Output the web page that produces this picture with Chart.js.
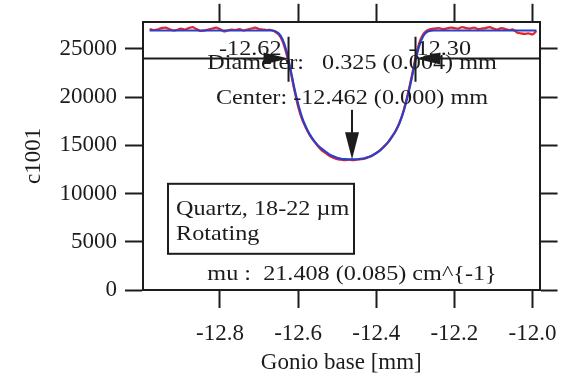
<!DOCTYPE html>
<html>
<head>
<meta charset="utf-8">
<script src="https://cdn.jsdelivr.net/npm/chart.js@4/dist/chart.umd.min.js"></script>
<style>
  html, body { margin: 0; padding: 0; background: #ffffff; }
  canvas { display: block; }
</style>
</head>
<body>
<canvas id="c" width="569" height="387"></canvas>
<script>
// Gonio base position [mm]
const positions = [
  -12.98, -12.97, -12.96, -12.95, -12.94, -12.93, -12.92, -12.91, -12.90, -12.89,
  -12.88, -12.87, -12.86, -12.85, -12.84, -12.83, -12.82, -12.81, -12.80, -12.79,
  -12.78, -12.77, -12.76, -12.75, -12.74, -12.73, -12.72, -12.71, -12.70, -12.69,
  -12.68, -12.67, -12.66, -12.65, -12.64, -12.63, -12.62, -12.61, -12.60, -12.59,
  -12.58, -12.57, -12.56, -12.55, -12.54, -12.53, -12.52, -12.51, -12.50, -12.49,
  -12.48, -12.47, -12.46, -12.45, -12.44, -12.43, -12.42, -12.41, -12.40, -12.39,
  -12.38, -12.37, -12.36, -12.35, -12.34, -12.33, -12.32, -12.31, -12.30, -12.29,
  -12.28, -12.27, -12.26, -12.25, -12.24, -12.23, -12.22, -12.21, -12.20, -12.19,
  -12.18, -12.17, -12.16, -12.15, -12.14, -12.13, -12.12, -12.11, -12.10, -12.09,
  -12.08, -12.07, -12.06, -12.05, -12.04, -12.03, -12.02, -12.01, -12.00, -11.99
];

// measured counts, detector c1001
const measuredCounts = [
  27050, 26950, 27000, 27150, 27200, 27050, 26900, 26950, 27100, 27000,
  27150, 27250, 27050, 26850, 26900, 27000, 27100, 27200, 27050, 26800,
  26900, 27000, 26950, 27050, 26900, 27000, 27100, 27200, 27050, 27000,
  26950, 26950, 26800, 26500, 25800, 24500, 22800, 20800, 19000, 17700,
  16800, 16050, 15450, 14950, 14500, 14200, 13900, 13700, 13550, 13500,
  13450, 13500, 13450, 13500, 13550, 13600, 13750, 13950, 14200, 14500,
  14900, 15300, 15900, 16500, 17400, 18600, 20200, 22000, 24000, 25600,
  26500, 26900, 27050, 27100, 27150, 27050, 27100, 27200, 27150, 27100,
  27250, 27150, 27100, 27200, 27050, 27100, 27150, 27250, 27100, 27000,
  27150, 27050, 26950, 27000, 26700, 26600, 26550, 26600, 26500, 26850
];

// fitted absorption profile of the rotating capillary
const fittedCounts = [
  26900, 26900, 26900, 26900, 26900, 26900, 26900, 26900, 26900, 26900,
  26900, 26900, 26900, 26900, 26900, 26900, 26900, 26900, 26900, 26900,
  26900, 26900, 26900, 26900, 26900, 26900, 26900, 26900, 26900, 26900,
  26900, 26900, 26850, 26600, 26000, 24800, 23000, 21000, 19300, 17900,
  16900, 16100, 15500, 15000, 14650, 14350, 14050, 13850, 13700, 13600,
  13560, 13540, 13540, 13550, 13590, 13660, 13780, 13950, 14180, 14480,
  14850, 15300, 15850, 16500, 17350, 18500, 20000, 21800, 23700, 25300,
  26300, 26750, 26880, 26900, 26900, 26900, 26900, 26900, 26900, 26900,
  26900, 26900, 26900, 26900, 26900, 26900, 26900, 26900, 26900, 26900,
  26900, 26900, 26900, 26900, 26900, 26900, 26900, 26900, 26900, 26900
];

// fit results
const fitCenter = -12.462;
const fitDiameter = 0.325;
const diameterLevel = 24000;
const diameterText = 'Diameter:   0.325 (0.004) mm';
const centerText = 'Center: -12.462 (0.000) mm';
const muText = 'mu :  21.408 (0.085) cm^{-1}';
const sampleLines = ['Quartz, 18-22 \u00b5m', 'Rotating'];

const xTicks = [-12.8, -12.6, -12.4, -12.2, -12.0];
const yTicks = [0, 5000, 10000, 15000, 20000, 25000];

const FONT = "'Liberation Serif', 'Times New Roman', serif";
const INK = '#1c1c1c';

function wideText(ctx, text, x, y, align, size) {
  ctx.save();
  ctx.font = size + 'px ' + FONT;
  ctx.fillStyle = INK;
  ctx.textAlign = align;
  ctx.textBaseline = 'alphabetic';
  ctx.translate(x, y);
  ctx.scale(1.1, 1);
  ctx.fillText(text, 0, 0);
  ctx.restore();
}

function arrowHead(ctx, tipX, tipY, dx, dy, len, half) {
  // dx,dy: unit direction the arrow points to
  const bx = tipX - dx * len, by = tipY - dy * len;
  ctx.beginPath();
  ctx.moveTo(tipX, tipY);
  ctx.lineTo(bx - dy * half, by + dx * half);
  ctx.lineTo(bx + dy * half, by - dx * half);
  ctx.closePath();
  ctx.fill();
}

const notesPlugin = {
  id: 'profileNotes',
  afterDatasetsDraw(chart) {
    const { ctx, chartArea: a, scales: { x, y } } = chart;
    const edgeL = fitCenter - fitDiameter / 2;
    const edgeR = fitCenter + fitDiameter / 2;
    const pL = x.getPixelForValue(edgeL);
    const pR = x.getPixelForValue(edgeR);
    const pC = x.getPixelForValue(fitCenter);
    const yD = y.getPixelForValue(diameterLevel);
    const yMin = y.getPixelForValue(Math.min(...fittedCounts));

    ctx.save();
    ctx.fillStyle = INK;
    ctx.strokeStyle = INK;
    ctx.lineWidth = 2;

    // texts
    wideText(ctx, edgeL.toFixed(2), pL - 7, a.top + 33, 'right', 22);
    wideText(ctx, edgeR.toFixed(2), pR - 7, a.top + 33, 'left', 22);
    wideText(ctx, diameterText, pC, a.top + 47, 'center', 22);
    wideText(ctx, centerText, pC, a.top + 82, 'center', 22);
    wideText(ctx, muText, pC, a.top + 258, 'center', 22);

    // edge markers
    ctx.beginPath();
    ctx.moveTo(pL, a.top + 15); ctx.lineTo(pL, a.top + 60);
    ctx.moveTo(pR, a.top + 15); ctx.lineTo(pR, a.top + 60);
    ctx.stroke();

    // diameter arrows
    ctx.beginPath();
    ctx.moveTo(a.left, yD); ctx.lineTo(pL - 20, yD);
    ctx.moveTo(pR + 20, yD); ctx.lineTo(a.right, yD);
    ctx.stroke();
    arrowHead(ctx, pL, yD, 1, 0, 25, 6);
    arrowHead(ctx, pR, yD, -1, 0, 25, 6);

    // center arrow
    ctx.beginPath();
    ctx.moveTo(pC, a.top + 88); ctx.lineTo(pC, yMin - 20);
    ctx.stroke();
    arrowHead(ctx, pC, yMin, 0, 1, 27, 7);

    // sample box
    const bx = a.left + 25, by = a.top + 162, bw = 186, bh = 70;
    ctx.fillStyle = '#ffffff';
    ctx.fillRect(bx, by, bw, bh);
    ctx.strokeRect(bx, by, bw, bh);
    wideText(ctx, sampleLines[0], bx + 8, by + 31, 'left', 22);
    wideText(ctx, sampleLines[1], bx + 8, by + 56, 'left', 22);
    ctx.restore();
  }
};

const gridStyle = {
  drawOnChartArea: false,
  drawTicks: true,
  tickLength: 18,
  tickWidth: 2,
  color: INK
};
const borderStyle = { display: true, color: INK, width: 2 };
const tickFont = { family: FONT, size: 23 };

const X_MIN = -12.997, X_MAX = -11.982;
const Y_MIN = 0, Y_MAX = 27800;

new Chart(document.getElementById('c'), {
  type: 'line',
  data: {
    datasets: [
      {
        label: 'fit',
        data: positions.map((p, i) => ({ x: p, y: fittedCounts[i] })),
        borderColor: '#2c3fc6',
        borderWidth: 2.2,
        pointRadius: 0,
        tension: 0.3
      },
      {
        label: 'c1001',
        data: positions.map((p, i) => ({ x: p, y: measuredCounts[i] })),
        borderColor: '#e3262d',
        borderWidth: 2.2,
        pointRadius: 0,
        tension: 0.3
      }
    ]
  },
  options: {
    responsive: false,
    animation: false,
    devicePixelRatio: 1,
    layout: { padding: 0 },
    plugins: { legend: { display: false }, tooltip: { enabled: false } },
    scales: {
      x: {
        type: 'linear', position: 'bottom', min: X_MIN, max: X_MAX,
        afterBuildTicks: s => { s.ticks = xTicks.map(v => ({ value: v })); },
        afterFit: s => { s.height = 97; },
        grid: gridStyle, border: borderStyle,
        ticks: { color: INK, font: tickFont, padding: 12, maxRotation: 0,
                 callback: v => v.toFixed(1) },
        title: { display: true, text: 'Gonio base [mm]', color: INK,
                 font: { family: FONT, size: 23 }, padding: { top: 0, bottom: 10 } }
      },
      x2: {
        type: 'linear', position: 'top', min: X_MIN, max: X_MAX,
        afterBuildTicks: s => { s.ticks = xTicks.map(v => ({ value: v })); },
        afterFit: s => { s.height = 20; },
        grid: gridStyle, border: borderStyle,
        ticks: { display: false }
      },
      y: {
        type: 'linear', position: 'left', min: Y_MIN, max: Y_MAX,
        afterBuildTicks: s => { s.ticks = yTicks.map(v => ({ value: v })); },
        afterFit: s => { s.width = 143; },
        grid: gridStyle, border: borderStyle,
        ticks: { color: INK, font: tickFont, padding: 8, callback: v => String(v) },
        title: { display: true, text: 'c1001', color: INK,
                 font: { family: FONT, size: 23 }, padding: { top: 20, bottom: 0 } }
      },
      y2: {
        type: 'linear', position: 'right', min: Y_MIN, max: Y_MAX,
        afterBuildTicks: s => { s.ticks = yTicks.map(v => ({ value: v })); },
        afterFit: s => { s.width = 29; },
        grid: gridStyle, border: borderStyle,
        ticks: { display: false }
      }
    }
  },
  plugins: [notesPlugin]
});
</script>
</body>
</html>
